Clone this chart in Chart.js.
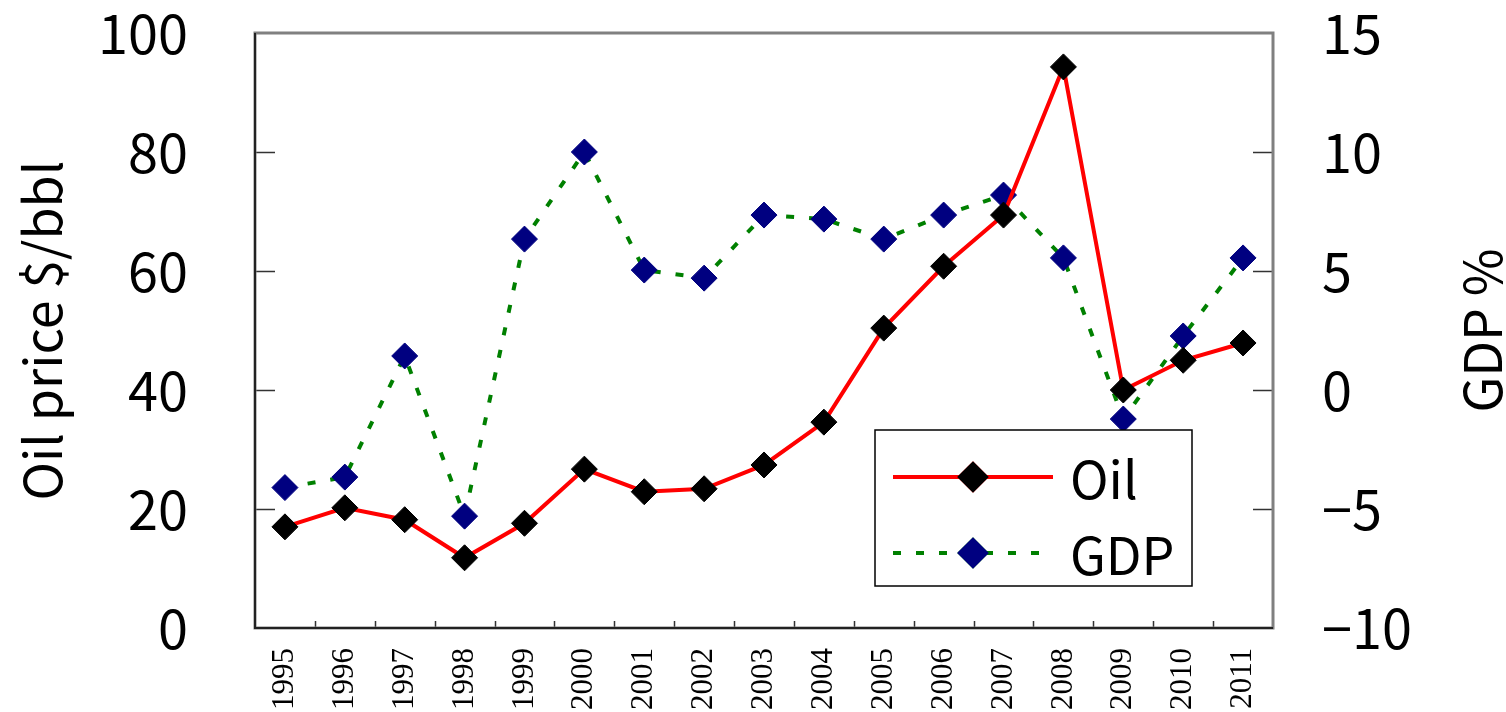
<!DOCTYPE html>
<html>
<head>
<meta charset="utf-8">
<script src="https://cdn.jsdelivr.net/npm/chart.js@4.4.0/dist/chart.umd.min.js"></script>
<style>
  html, body { margin: 0; padding: 0; background: #fff; }
  #wrap { width: 1506px; height: 712px; }
</style>
</head>
<body>
<div id="wrap"><canvas id="oilChart"></canvas></div>
<script>
// Dati
const years = ['1995', '1996', '1997', '1998', '1999', '2000', '2001', '2002', '2003',
               '2004', '2005', '2006', '2007', '2008', '2009', '2010', '2011'];
const oilPrice = [17.0, 20.2, 18.2, 11.8, 17.6, 26.7, 22.9, 23.4, 27.4,
                  34.6, 50.4, 60.8, 69.4, 94.3, 40.0, 45.0, 47.9];
const gdpGrowth = [-4.1, -3.66, 1.43, -5.3, 6.34, 10.0, 5.04, 4.7, 7.35,
                   7.18, 6.34, 7.35, 8.19, 5.55, -1.22, 2.27, 5.55];
const oilTicks = [0, 20, 40, 60, 80, 100];
const gdpTicks = [-10, -5, 0, 5, 10, 15];

const sansFont = "'Noto Sans CJK JP', 'Noto Sans', sans-serif";
const serifFont = "'Liberation Serif', 'DejaVu Serif', serif";

// Azzera il padding automatico delle scale per fissare l'area del grafico
function fixScale(s, w, h) {
    if (w !== undefined) s.width = w;
    if (h !== undefined) s.height = h;
    s.paddingTop = 0; s.paddingBottom = 0;
    s.paddingLeft = 0; s.paddingRight = 0;
}

// Cornice, tacche interne, titoli degli assi e legenda
const decorPlugin = {
    id: 'decor',
    afterDatasetsDraw(chart) {
        const ctx = chart.ctx;
        const a = chart.chartArea;
        const x = chart.scales.x, y = chart.scales.y, y1 = chart.scales.y1;
        ctx.save();

        // tacche interne
        ctx.strokeStyle = '#333';
        ctx.lineWidth = 1.5;
        ctx.beginPath();
        oilTicks.slice(1, -1).forEach(v => {
            const py = Math.round(y.getPixelForValue(v)) + 0.5;
            ctx.moveTo(a.left, py); ctx.lineTo(a.left + 20, py);
        });
        gdpTicks.slice(1, -1).forEach(v => {
            const py = Math.round(y1.getPixelForValue(v)) + 0.5;
            ctx.moveTo(a.right - 20, py); ctx.lineTo(a.right, py);
        });
        for (let i = 0; i < years.length - 1; i++) {
            const px = Math.round((x.getPixelForValue(i) + x.getPixelForValue(i + 1)) / 2) + 0.5;
            ctx.moveTo(px, a.bottom - 7); ctx.lineTo(px, a.bottom);
        }
        ctx.stroke();

        // cornice
        ctx.strokeStyle = '#808080';
        ctx.lineWidth = 3;
        ctx.strokeRect(a.left, a.top, a.right - a.left, a.bottom - a.top);
        ctx.strokeStyle = '#222';
        ctx.lineWidth = 2;
        ctx.beginPath();
        ctx.moveTo(a.left, a.top); ctx.lineTo(a.left, a.bottom); ctx.lineTo(a.right, a.bottom);
        ctx.stroke();

        // titoli degli assi (entrambi dal basso verso l'alto)
        ctx.fillStyle = '#000';
        ctx.font = '52px ' + sansFont;
        ctx.textAlign = 'center';
        ctx.textBaseline = 'middle';
        const midY = (a.top + a.bottom) / 2;
        [[42, 'Oil price $/bbl'], [1482, 'GDP %']].forEach(([tx, label]) => {
            ctx.save();
            ctx.translate(tx, midY);
            ctx.rotate(-Math.PI / 2);
            ctx.fillText(label, 0, 0);
            ctx.restore();
        });

        // legenda
        const lx = 875, ly = 430, lw = 317, lh = 156;
        ctx.fillStyle = '#fff';
        ctx.fillRect(lx, ly, lw, lh);
        ctx.strokeStyle = '#000';
        ctx.lineWidth = 1.5;
        ctx.strokeRect(lx, ly, lw, lh);
        const rows = [[chart.data.datasets[0], 477], [chart.data.datasets[1], 553]];
        rows.forEach(([ds, ry]) => {
            ctx.strokeStyle = ds.borderColor;
            ctx.lineWidth = ds.borderWidth;
            ctx.setLineDash(ds.borderDash || []);
            ctx.beginPath();
            ctx.moveTo(893, ry); ctx.lineTo(1053, ry);
            ctx.stroke();
            ctx.setLineDash([]);
            Chart.helpers.drawPoint(ctx, {
                pointStyle: 'rectRot', radius: ds.pointRadius, borderWidth: 1
            }, 973, ry);
            ctx.fillStyle = ds.pointBackgroundColor;
            ctx.strokeStyle = ds.pointBorderColor;
            ctx.fill();
            ctx.stroke();
            ctx.fillStyle = '#000';
            ctx.font = '52px ' + sansFont;
            ctx.textAlign = 'left';
            ctx.fillText(ds.label, 1070, ry + 2);
        });
        ctx.restore();
    }
};

const ctx = document.getElementById('oilChart').getContext('2d');
new Chart(ctx, {
    type: 'line',
    data: {
        labels: years,
        datasets: [
            {
                label: 'Oil',
                data: oilPrice,
                yAxisID: 'y',
                borderColor: '#ff0000',
                borderWidth: 4,
                pointStyle: 'rectRot',
                pointRadius: 13,
                pointBackgroundColor: '#000000',
                pointBorderColor: '#000000',
                pointBorderWidth: 1,
                tension: 0,
                clip: false,
                order: 1
            },
            {
                label: 'GDP',
                data: gdpGrowth,
                yAxisID: 'y1',
                borderColor: '#008000',
                borderWidth: 4,
                borderDash: [8, 15],
                pointStyle: 'rectRot',
                pointRadius: 13,
                pointBackgroundColor: '#000080',
                pointBorderColor: '#000080',
                pointBorderWidth: 1,
                tension: 0,
                clip: false,
                order: 2
            }
        ]
    },
    options: {
        responsive: true,
        maintainAspectRatio: false,
        animation: false,
        layout: { padding: { top: 33, left: 0, right: 0, bottom: 0 } },
        scales: {
            x: {
                type: 'category',
                offset: true,
                grid: { display: false, drawTicks: false },
                border: { display: false },
                ticks: {
                    autoSkip: false,
                    minRotation: 90,
                    maxRotation: 90,
                    padding: 20,
                    color: '#000',
                    font: { family: serifFont, size: 31 }
                },
                afterFit: s => fixScale(s, undefined, 84)
            },
            y: {
                position: 'left',
                min: 0,
                max: 100,
                afterBuildTicks: s => { s.ticks = oilTicks.map(v => ({ value: v })); },
                grid: { display: false, drawTicks: false },
                border: { display: false },
                ticks: {
                    padding: 67,
                    color: '#000',
                    font: { family: sansFont, size: 54 }
                },
                afterFit: s => fixScale(s, 255)
            },
            y1: {
                position: 'right',
                min: -10,
                max: 15,
                afterBuildTicks: s => { s.ticks = gdpTicks.map(v => ({ value: v })); },
                grid: { display: false, drawTicks: false },
                border: { display: false },
                ticks: {
                    padding: 49,
                    color: '#000',
                    font: { family: sansFont, size: 54 },
                    callback: v => v < 0 ? '\u2212' + Math.abs(v) : String(v)
                },
                afterFit: s => fixScale(s, 233)
            }
        },
        plugins: {
            legend: { display: false },
            tooltip: { enabled: false }
        }
    },
    plugins: [decorPlugin]
});
</script>
</body>
</html>
